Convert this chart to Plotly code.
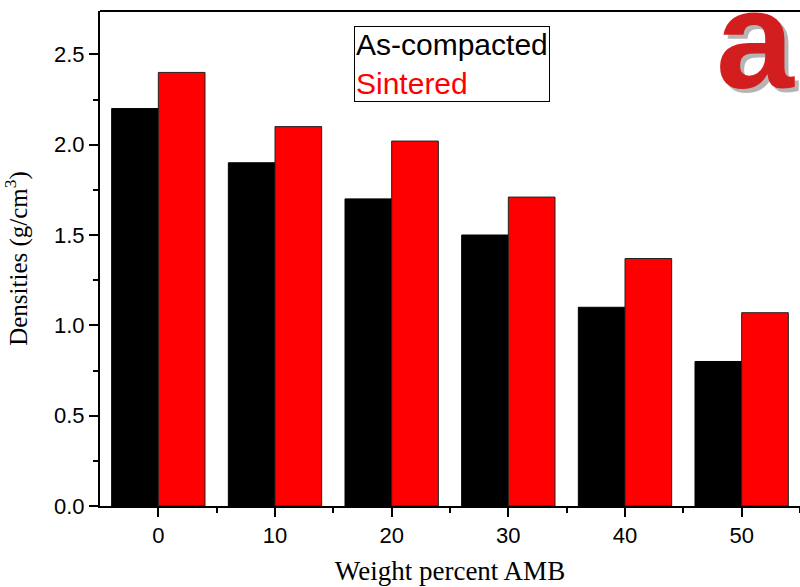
import plotly.graph_objects as go

weights = [0, 10, 20, 30, 40, 50]
as_compacted = [2.2, 1.9, 1.7, 1.5, 1.1, 0.8]
sintered = [2.4, 2.1, 2.02, 1.71, 1.37, 1.07]
series_names = ["As-compacted", "Sintered"]
y_ticks = [0.0, 0.5, 1.0, 1.5, 2.0, 2.5]

fig = go.Figure()
fig.add_trace(go.Bar(x=weights, y=as_compacted, name=series_names[0], width=4, offset=-4,
                     marker=dict(color="black", line=dict(color="black", width=1))))
fig.add_trace(go.Bar(x=weights, y=sintered, name=series_names[1], width=4, offset=0,
                     marker=dict(color="#ff0000", line=dict(color="#222222", width=1))))

axis_font = dict(family="Liberation Sans, Arial", size=22, color="black")
fig.update_layout(
    width=800, height=587,
    margin=dict(l=100, r=0, t=11, b=81),
    plot_bgcolor="white", paper_bgcolor="white",
    showlegend=False,
    xaxis=dict(range=[-5, 55], tickvals=weights, ticktext=[str(w) for w in weights],
               ticks="outside", ticklen=9, tickwidth=2, tickcolor="black",
               minor=dict(tickvals=[5, 15, 25, 35, 45, 55], ticks="outside", ticklen=5, tickwidth=2, tickcolor="black"),
               showline=True, linewidth=2, linecolor="black", mirror=False,
               showgrid=False, zeroline=False, tickfont=axis_font,
               title=dict(text="Weight percent AMB", font=dict(family="Liberation Serif, Times New Roman", size=27, color="black"), standoff=14)),
    yaxis=dict(range=[0, 2.74], tickvals=y_ticks, ticktext=[f"{v:.1f}" for v in y_ticks],
               ticks="outside", ticklen=9, tickwidth=2, tickcolor="black",
               minor=dict(tickvals=[0.25, 0.75, 1.25, 1.75, 2.25], ticks="outside", ticklen=5, tickwidth=2, tickcolor="black"),
               showline=True, linewidth=2, linecolor="black",
               showgrid=False, zeroline=False, tickfont=axis_font,
               title=dict(text="Densities (g/cm<sup>3</sup>)", font=dict(family="Liberation Serif, Times New Roman", size=25, color="black"), standoff=20)),
)
# top frame line
fig.add_shape(type="line", xref="paper", yref="paper", x0=0, x1=1, y0=1, y1=1,
              line=dict(color="black", width=2))

# legend box (text only, as in the reference)
fig.add_annotation(xref="paper", yref="paper", x=(354 - 100) / 700, y=1 - (26 - 11) / 495,
                   xanchor="left", yanchor="top", align="left", showarrow=False,
                   text="<span style='color:black'>%s</span><br><span style='color:#ff0000'>%s</span>&nbsp;" % tuple(series_names),
                   font=dict(family="Liberation Sans, Arial", size=30),
                   bordercolor="black", borderwidth=1, borderpad=1, bgcolor="white")

# panel label "a" with shadow
fig.add_annotation(xref="paper", yref="paper", x=(718 - 100) / 700, y=1 - (-37 - 11) / 495,
                   xanchor="left", yanchor="top", showarrow=False, text="<b>a</b>",
                   font=dict(family="Liberation Sans, Arial", size=140, color="rgba(90,90,90,0.45)"))
fig.add_annotation(xref="paper", yref="paper", x=(714 - 100) / 700, y=1 - (-41 - 11) / 495,
                   xanchor="left", yanchor="top", showarrow=False, text="<b>a</b>",
                   font=dict(family="Liberation Sans, Arial", size=140, color="#d21e1e"))

fig.write_html("out.html")
